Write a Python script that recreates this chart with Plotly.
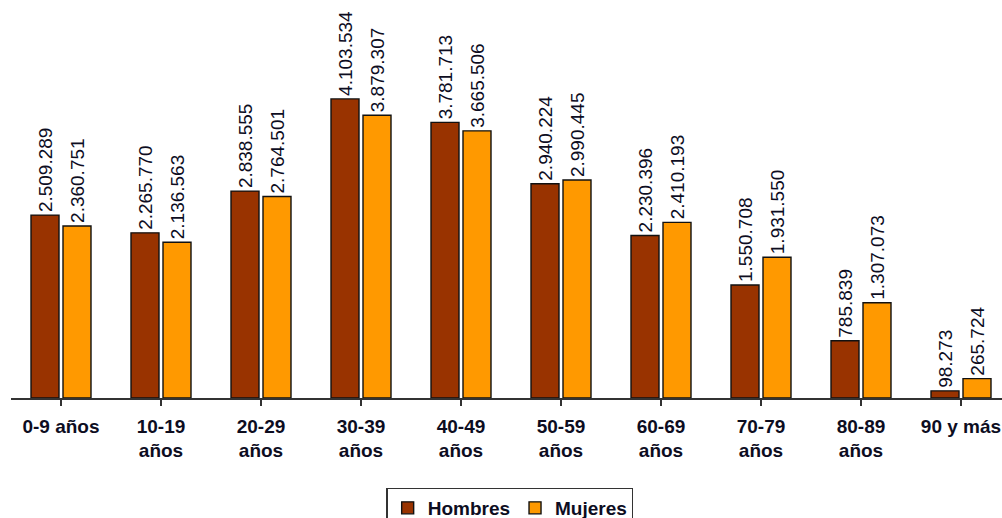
import plotly.graph_objects as go

categories = ["0-9 años", "10-19<br>años", "20-29<br>años", "30-39<br>años", "40-49<br>años",
              "50-59<br>años", "60-69<br>años", "70-79<br>años", "80-89<br>años", "90 y más"]
hombres = [2509289, 2265770, 2838555, 4103534, 3781713, 2940224, 2230396, 1550708, 785839, 98273]
mujeres = [2360751, 2136563, 2764501, 3879307, 3665506, 2990445, 2410193, 1931550, 1307073, 265724]


def fmt(v):
    return f"{v:,}".replace(",", ".")


FONT = "Liberation Sans, Arial, sans-serif"
x = list(range(len(categories)))

fig = go.Figure()
for name, vals, color in [("Hombres", hombres, "#993300"), ("Mujeres", mujeres, "#FF9900")]:
    fig.add_trace(go.Bar(
        x=x, y=vals, name=name,
        marker=dict(color=color, line=dict(color="#111111", width=1.4)),
        text=[fmt(v) for v in vals],
        textposition="outside",
        textangle=-90,
        constraintext="none",
        cliponaxis=False,
        textfont=dict(family=FONT, size=19, color="#0d0d1f"),
    ))

fig.update_layout(
    width=1002, height=518,
    margin=dict(l=11, r=0, t=19, b=120, autoexpand=False),
    paper_bgcolor="white", plot_bgcolor="white",
    barmode="group", bargap=0.36, bargroupgap=0.125,
    showlegend=True,
    legend=dict(
        orientation="h", x=0.5035, xanchor="center", y=-0.237, yanchor="top",
        bordercolor="#333333", borderwidth=1.2,
        font=dict(family=FONT, size=19, color="#0d0d1f", weight="bold"),
        itemwidth=30, traceorder="normal",
    ),
    xaxis=dict(
        range=[-0.5, 9.41],
        tickmode="array", tickvals=x, ticktext=[f"<b>{c}</b>" for c in categories],
        tickfont=dict(family=FONT, size=19, color="#0d0d1f"),
        showline=True, linecolor="#333333", linewidth=1.5,
        ticks="outside", tickson="boundaries", ticklen=6, tickcolor="#333333", tickwidth=1.5,
        ticklabelstandoff=4,
        showgrid=False, zeroline=False, automargin=False, fixedrange=True,
    ),
    yaxis=dict(
        range=[0, 5200000], visible=False, showgrid=False, zeroline=False,
        automargin=False, fixedrange=True,
    ),
)

fig.write_html("out.html")
